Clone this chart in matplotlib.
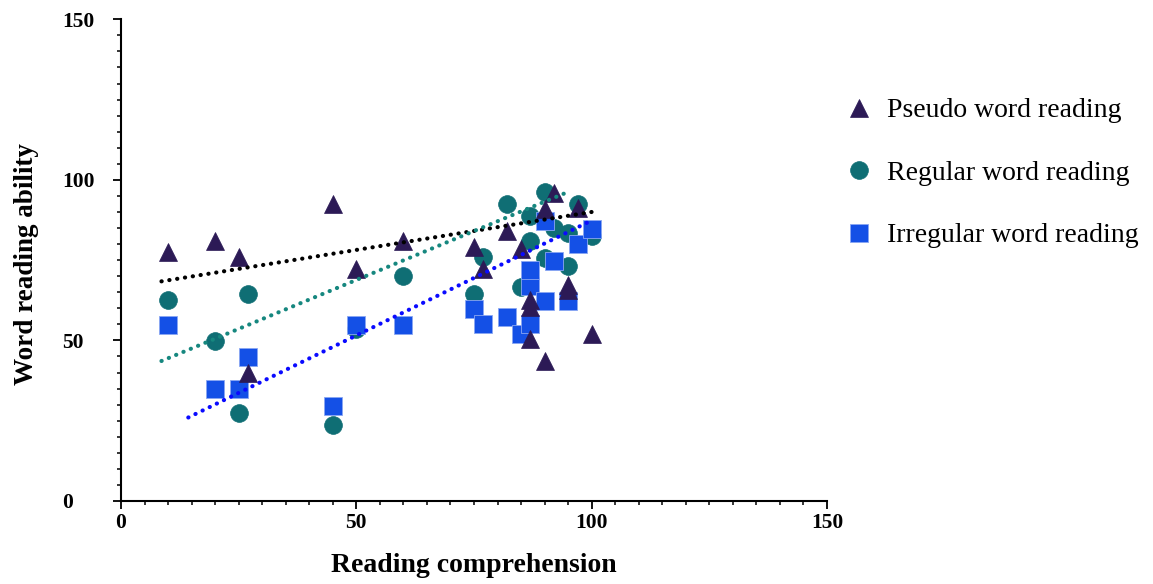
import matplotlib
matplotlib.use('Agg')
import matplotlib.pyplot as plt
from matplotlib.ticker import MultipleLocator

plt.rcParams['font.family'] = ['Liberation Serif', 'DejaVu Serif']

# Values
reading_comp_pseudo = [10, 20, 25, 27, 45, 50, 60, 75, 77, 82, 85, 87, 87, 87, 90, 90, 92, 95, 95, 97, 100]
pseudo_word = [77.4, 81, 76, 40, 92.5, 72.2, 81, 79, 72.3, 84, 78.4, 62.5, 60.5, 50.4, 90.8, 43.6, 96, 67.2, 65.8, 91.2, 52]

reading_comp_regular = [10, 20, 25, 27, 45, 50, 60, 75, 77, 82, 85, 87, 87, 90, 90, 92, 95, 95, 97, 100]
regular_word = [62.7, 49.7, 27.3, 64.4, 23.6, 53.5, 70, 64.6, 76, 92.4, 66.5, 88.8, 81, 96.3, 75.8, 85, 83.5, 73.3, 92.6, 82.5]

reading_comp_irregular = [10, 20, 25, 27, 45, 50, 60, 75, 77, 82, 85, 87, 87, 87, 90, 90, 92, 95, 97, 100]
irregular_word = [54.8, 34.8, 34.8, 44.7, 29.6, 54.8, 54.8, 59.7, 55, 57.4, 52.1, 55, 67, 72, 62.3, 87.2, 74.7, 62.3, 80, 84.6]

# trend lines (end points as drawn in the figure)
pseudo_fit_x = [8.6, 100]
pseudo_fit_y = [68.4, 90]
regular_fit_x = [8.6, 95.4]
regular_fit_y = [43.6, 96.5]
irregular_fit_x = [14.3, 100.2]
irregular_fit_y = [26, 87.5]

labels = ['Pseudo word reading', 'Regular word reading', 'Irregular word reading']

fig = plt.figure(figsize=(11.53, 5.84), dpi=100)
ax = fig.add_axes([121 / 1153, 83 / 584, 706 / 1153, 481.7 / 584])

ms = 12.8
circ, = ax.plot(reading_comp_regular, regular_word, 'o', ms=ms, color='#0f6e74',
                mec='#0f6e74', mew=0.5, zorder=3, label=labels[1])
sq, = ax.plot(reading_comp_irregular, irregular_word, 's', ms=ms, color='#1450e6',
              mec='#8aa6f2', mew=0.6, zorder=4, label=labels[2])
tri, = ax.plot(reading_comp_pseudo, pseudo_word, '^', ms=ms, color='#2c1a56',
               mec='#2c1a56', mew=0.5, zorder=5, label=labels[0])

dot = (0, (0.05, 1.85))
ax.plot(pseudo_fit_x, pseudo_fit_y, color='black', lw=3, ls=dot, dash_capstyle='round', zorder=6)
ax.plot(regular_fit_x, regular_fit_y, color='#16877f', lw=3, ls=dot, dash_capstyle='round', zorder=6)
ax.plot(irregular_fit_x, irregular_fit_y, color='#0a0aff', lw=3, ls=dot, dash_capstyle='round', zorder=6)

ax.set_xlim(0, 150)
ax.set_ylim(0, 150)
ax.xaxis.set_major_locator(MultipleLocator(50))
ax.yaxis.set_major_locator(MultipleLocator(50))
ax.xaxis.set_minor_locator(MultipleLocator(5))
ax.yaxis.set_minor_locator(MultipleLocator(5))

for s in ['top', 'right']:
    ax.spines[s].set_visible(False)
for s in ['left', 'bottom']:
    ax.spines[s].set_linewidth(1.5)

ax.tick_params(which='major', direction='out', length=6, width=1.3)
ax.tick_params(which='minor', direction='out', length=3, width=1.1)
ax.tick_params(axis='x', which='major', pad=3, labelsize=15.5)
ax.tick_params(axis='y', which='major', pad=36.5, labelsize=15.5)
for lbl in ax.get_xticklabels() + ax.get_yticklabels():
    lbl.set_fontweight('bold')
for lbl in ax.get_yticklabels():
    lbl.set_horizontalalignment('left')

fig.text(27 / 1153, 1 - 264 / 584, 'Word reading ability', rotation=90, ha='center', va='center',
         fontsize=19.5, fontweight='bold')
fig.text(474 / 1153, 1 - 566 / 584, 'Reading comprehension', ha='center', va='center',
         fontsize=20, fontweight='bold')

fig.legend(handles=[tri, circ, sq], loc='upper left', bbox_to_anchor=(845 / 1153, 1 - 98 / 584),
           frameon=False, fontsize=20, handlelength=1.0, handletextpad=0.52,
           labelspacing=1.33, borderpad=0, borderaxespad=0, numpoints=1)

fig.savefig('out.png', dpi=100)
